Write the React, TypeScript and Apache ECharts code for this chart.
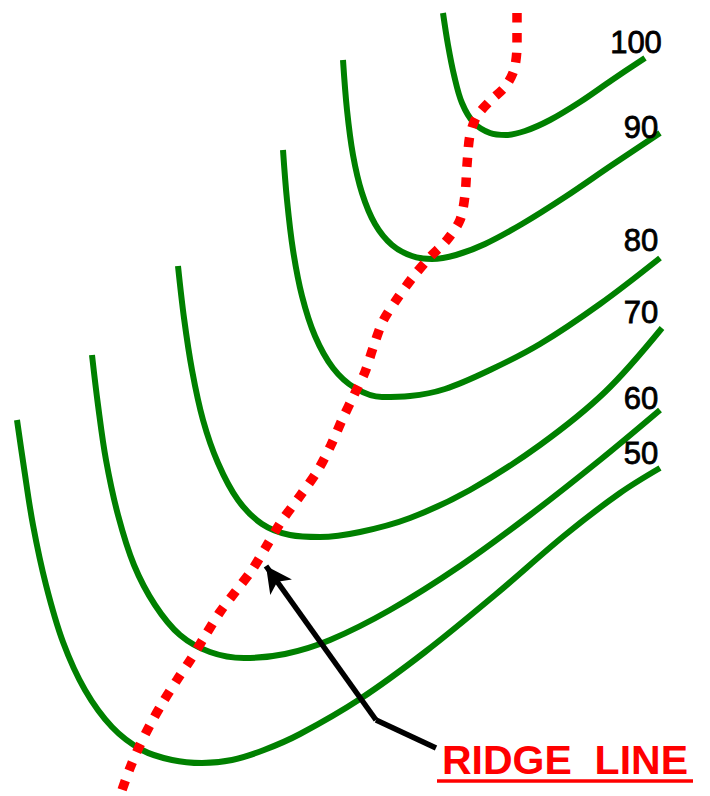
import React, { useEffect, useRef } from "react";
import * as echarts from "echarts";

// Contour lines (x, y in picture units; y grows downward)
const contour100: number[][] = [
  [443, 13], [448, 45], [454, 75], [462, 103], [474, 123], [490, 133], [506, 135],
  [525, 131], [550, 120], [580, 102], [612, 80], [645, 58],
];
const contour90: number[][] = [
  [343, 60], [347, 110], [353, 155], [362, 193], [375, 224], [392, 245], [412, 256],
  [432, 259], [456, 255], [485, 244], [522, 224], [565, 197], [612, 165], [660, 133],
];
const contour80: number[][] = [
  [283, 150], [287, 200], [293, 250], [302, 296], [315, 336], [333, 368], [355, 388],
  [382, 397], [410, 396], [445, 389], [490, 370], [540, 344], [600, 304], [660, 258],
];
const contour70: number[][] = [
  [178, 266], [184, 318], [192, 370], [203, 420], [218, 463], [238, 500], [262, 524],
  [290, 535], [320, 537], [360, 532], [410, 518], [470, 490], [540, 445], [605, 392], [662, 328],
];
const contour60: number[][] = [
  [92, 355], [98, 405], [106, 460], [118, 515], [134, 565], [155, 605], [180, 635],
  [210, 652], [244, 658], [285, 654], [330, 640], [390, 610], [460, 566], [530, 515],
  [600, 460], [660, 410],
];
const contour50: number[][] = [
  [17, 420], [24, 468], [33, 525], [46, 585], [63, 642], [85, 690], [112, 727],
  [142, 750], [172, 760], [202, 763], [232, 760], [264, 750], [300, 734], [360, 699],
  [425, 652], [495, 595], [565, 535], [620, 493], [660, 468],
];
const contourLevels = ["100", "90", "80", "70", "60", "50"];
const contourLabelPos: number[][] = [
  [636, 42], [641, 127], [641, 240], [641, 312], [641, 398], [641, 453],
];

// Ridge line (dotted)
const ridgeLine: number[][] = [
  [517, 13], [517, 45], [514, 70], [505, 87], [490, 101], [477, 116], [470, 135],
  [467, 165], [465, 195], [460, 220], [447, 240], [430, 257], [413, 277], [397, 299],
  [383, 321], [373, 348], [365, 372], [354, 395], [342, 420], [331, 445], [318, 470],
  [300, 496], [281, 522], [266, 547], [252, 570], [236, 591], [220, 612], [205, 636],
  [191, 659], [177, 680], [163, 702], [150, 725], [139, 747], [130, 768], [122, 790],
];

// Annotation
const arrowPath: number[][] = [[436, 748], [376, 720], [266, 566]];
const ridgeText = "RIDGE  LINE";
const ridgeTextPos: number[] = [565, 760];
const underline: number[][] = [[437, 781], [693, 781]];

const contours = [contour100, contour90, contour80, contour70, contour60, contour50];

export default function App() {
  const ref = useRef<HTMLDivElement>(null);
  useEffect(() => {
    document.body.style.margin = "0";
    const chart = echarts.init(ref.current!, null, { renderer: "svg" });
    const green = "#008000";
    const font = "'Liberation Sans', Arial, sans-serif";
    const series: any[] = contours.map((c, i) => ({
      type: "line",
      name: contourLevels[i],
      data: c,
      smooth: 0.35,
      showSymbol: false,
      lineStyle: { color: green, width: 6 },
      silent: true,
    }));
    series.push({
      type: "line",
      data: ridgeLine,
      smooth: 0.3,
      showSymbol: false,
      lineStyle: { color: "#ff0000", width: 9.5, type: [9.5, 10.5], cap: "butt" },
      silent: true,
      z: 3,
    });
    const n = arrowPath.length;
    series.push({
      type: "line",
      data: arrowPath.slice(0, n - 1),
      showSymbol: false,
      lineStyle: { color: "#000", width: 5.5, join: "miter" },
      silent: true,
      z: 4,
      markLine: {
        silent: true,
        animation: false,
        symbol: ["none", "arrow"],
        symbolSize: [20, 26],
        label: { show: false },
        lineStyle: { color: "#000", width: 5.5, type: "solid" },
        data: [[{ coord: arrowPath[n - 2] }, { coord: arrowPath[n - 1] }]],
      },
    });
    const labelBase = {
      type: "scatter",
      symbolSize: 1,
      itemStyle: { color: "rgba(0,0,0,0)", opacity: 1 },
      silent: true,
      z: 5,
    };
    series.push({
      ...labelBase,
      data: contourLabelPos.map((p, i) => [p[0], p[1], contourLevels[i]]),
      label: {
        show: true,
        position: "inside",
        formatter: (p: any) => p.value[2],
        fontSize: 31,
        color: "#000",
        opacity: 1,
        textBorderColor: "#000",
        textBorderWidth: 0.8,
        fontFamily: font,
      },
    });
    series.push({
      ...labelBase,
      data: [[ridgeTextPos[0], ridgeTextPos[1], ridgeText]],
      label: {
        show: true,
        position: "inside",
        formatter: (p: any) => p.value[2],
        fontSize: 41,
        fontWeight: "bold",
        color: "#ff0000",
        opacity: 1,
        fontFamily: font,
      },
    });
    series.push({
      type: "line",
      data: underline,
      showSymbol: false,
      lineStyle: { color: "#ff0000", width: 3.5 },
      silent: true,
    });
    chart.setOption({
      animation: false,
      backgroundColor: "#fff",
      grid: { left: 0, right: 0, top: 0, bottom: 0 },
      xAxis: { type: "value", min: 0, max: 710, show: false },
      yAxis: { type: "value", min: 0, max: 796, inverse: true, show: false },
      series,
    });
    return () => chart.dispose();
  }, []);
  return <div ref={ref} style={{ width: 710, height: 796 }} />;
}
